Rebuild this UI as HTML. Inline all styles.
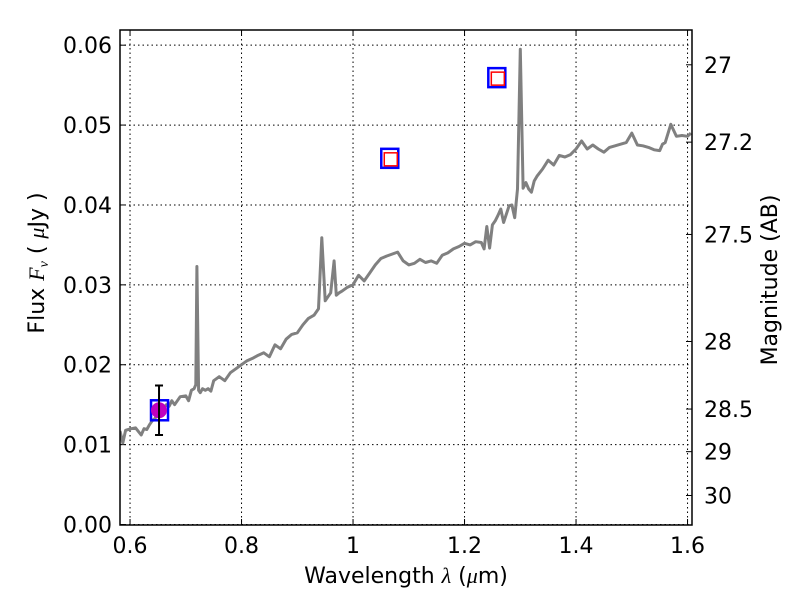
<!DOCTYPE html>
<html><head><meta charset="utf-8"><style>
body{margin:0;background:#fff;}
svg{display:block;font-family:"DejaVu Sans","Liberation Sans",sans-serif;}
</style></head><body>
<svg id="chart" width="800" height="600" viewBox="0 0 800 600" xmlns="http://www.w3.org/2000/svg"></svg>
<script>
const specWave = [0.582,0.587,0.592,0.597,0.602,0.61,0.62,0.625,0.63,0.635,0.64,0.645,0.65,0.655,0.66,0.665,0.67,0.675,0.68,0.69,0.7,0.705,0.71,0.715,0.718,0.72,0.723,0.726,0.73,0.735,0.74,0.745,0.75,0.76,0.77,0.78,0.79,0.8,0.81,0.82,0.83,0.84,0.85,0.86,0.87,0.88,0.89,0.9,0.91,0.92,0.93,0.938,0.944,0.95,0.955,0.96,0.966,0.97,0.975,0.98,0.99,1.0,1.01,1.02,1.03,1.04,1.05,1.06,1.08,1.09,1.1,1.11,1.12,1.13,1.14,1.15,1.16,1.17,1.18,1.19,1.2,1.21,1.22,1.23,1.235,1.24,1.245,1.25,1.255,1.26,1.265,1.27,1.28,1.285,1.29,1.295,1.3,1.305,1.31,1.315,1.32,1.325,1.33,1.34,1.35,1.36,1.37,1.38,1.39,1.4,1.41,1.42,1.43,1.44,1.45,1.46,1.47,1.48,1.49,1.5,1.51,1.52,1.53,1.54,1.55,1.555,1.56,1.57,1.58,1.59,1.6,1.606];
const specFlux = [0.0117,0.0102,0.0118,0.0119,0.0120,0.0121,0.0112,0.0120,0.0119,0.0125,0.0130,0.0133,0.0140,0.0142,0.0144,0.0150,0.0148,0.0155,0.0150,0.0160,0.0161,0.0155,0.0168,0.0170,0.0175,0.0323,0.0168,0.0165,0.0170,0.0168,0.0170,0.0167,0.0180,0.0185,0.0180,0.0190,0.0195,0.0200,0.0205,0.0208,0.0212,0.0215,0.0210,0.0225,0.0220,0.0232,0.0238,0.0240,0.0250,0.0258,0.0262,0.0270,0.0359,0.0280,0.0285,0.0290,0.0330,0.0287,0.0290,0.0292,0.0297,0.0300,0.0312,0.0305,0.0315,0.0325,0.0333,0.0336,0.0341,0.0330,0.0325,0.0327,0.0332,0.0328,0.0330,0.0327,0.0337,0.0340,0.0345,0.0348,0.0352,0.0350,0.0354,0.0353,0.0345,0.0373,0.0346,0.0375,0.0380,0.0387,0.0395,0.0378,0.0399,0.0400,0.0384,0.0420,0.0595,0.0421,0.0428,0.0420,0.0416,0.0430,0.0436,0.0445,0.0456,0.0450,0.0462,0.0460,0.0463,0.0470,0.0480,0.0470,0.0475,0.0470,0.0466,0.0472,0.0474,0.0476,0.0478,0.0490,0.0475,0.0474,0.0472,0.0469,0.0468,0.0476,0.0478,0.0501,0.0486,0.0487,0.0486,0.0490,0.0492,0.0494];
const photWave = [0.652];
const photFlux = [0.0143];
const photErr = [0.0031];
const modelWave = [1.065, 1.257];
const modelFlux = [0.0459, 0.0560];
const xTicks = [0.6,0.8,1.0,1.2,1.4,1.6];
const xTickLabels = ["0.6","0.8","1","1.2","1.4","1.6"];
const yTicks = [0,0.01,0.02,0.03,0.04,0.05,0.06];
const yTickLabels = ["0.00","0.01","0.02","0.03","0.04","0.05","0.06"];
const magTicks = [27,27.2,27.5,28,28.5,29,30];
const magTickLabels = ["27","27.2","27.5","28","28.5","29","30"];

const L=120,R=692,T=30,B=525;
const x0=0.582,x1=1.608,y0=-0.00006,y1=0.0619;
const sx=v=>L+(v-x0)/(x1-x0)*(R-L);
const sy=v=>B-(v-y0)/(y1-y0)*(B-T);
const magToFlux=m=>Math.pow(10,(23.9-m)/2.5);
const svg=document.getElementById('chart');
const NS='http://www.w3.org/2000/svg';
function mk(tag,attrs,parent){const e=document.createElementNS(NS,tag);for(const k in attrs)e.setAttribute(k,attrs[k]);(parent||svg).appendChild(e);return e;}
const FS=22;

xTicks.forEach((v,i)=>{
  const g=mk('line',{x1:sx(v),x2:sx(v),y1:T,y2:B,stroke:'#000','stroke-width':1,'stroke-dasharray':'1.5,3'});
  
  
  mk('line',{x1:sx(v),x2:sx(v),y1:B,y2:B-6,stroke:'#000'});
  mk('line',{x1:sx(v),x2:sx(v),y1:T,y2:T+6,stroke:'#000'});
  const t=mk('text',{x:sx(v),y:B+28,'text-anchor':'middle','font-size':FS});
  t.textContent=xTickLabels[i];
  
  
});
yTicks.forEach((v,i)=>{
  const g=mk('line',{x1:L,x2:R,y1:sy(v),y2:sy(v),stroke:'#000','stroke-width':1,'stroke-dasharray':'1.5,3'});
  
  
  mk('line',{x1:L,x2:L+6,y1:sy(v),y2:sy(v),stroke:'#000'});
  const t=mk('text',{x:L-8,y:sy(v)+8,'text-anchor':'end','font-size':FS});
  t.textContent=yTickLabels[i];
  
  
});
magTicks.forEach((m,i)=>{
  const y=sy(magToFlux(m));
  mk('line',{x1:R,x2:R-6,y1:y,y2:y,stroke:'#000'});
  const t=mk('text',{x:R+12,y:y+8,'text-anchor':'start','font-size':FS});
  t.textContent=magTickLabels[i];
  
  
});

let d='';
specWave.forEach((w,i)=>{d+=(i?'L':'M')+sx(w).toFixed(1)+','+sy(specFlux[i]).toFixed(1);});
const clip=mk('clipPath',{id:'pc'});mk('rect',{x:L,y:T,width:R-L,height:B-T},clip);
const sp=mk('path',{d:d,fill:'none',stroke:'#808080','stroke-width':3,'stroke-linejoin':'round','clip-path':'url(#pc)'});



modelWave.forEach((w,i)=>{
  const cx=sx(w),cy=sy(modelFlux[i]);
  const b=mk('rect',{x:cx-8,y:cy-9,width:17,height:19,fill:'none',stroke:'#0000ff','stroke-width':2.5});
  
  
  const r=mk('rect',{x:cx-5,y:cy-5,width:13,height:13,fill:'none',stroke:'#ff0000','stroke-width':1.5});
  
  
});

photWave.forEach((w,i)=>{
  const cx=sx(w),cy=sy(photFlux[i]);
  const yt=sy(photFlux[i]+photErr[i]),yb=sy(photFlux[i]-photErr[i]);
  const bx=mk('rect',{x:cx-8,y:cy-10,width:17,height:20,fill:'none',stroke:'#0000ff','stroke-width':2.5});
  
  
  const c=mk('circle',{cx:cx,cy:cy,r:8,fill:'#bf00bf'});
  
  
  const e=mk('path',{d:`M${cx},${yt}L${cx},${yb}M${cx-4},${yt}L${cx+4},${yt}M${cx-4},${yb}L${cx+4},${yb}`,stroke:'#000','stroke-width':2,fill:'none'});
  
  
});

const fr=mk('rect',{x:L,y:T,width:R-L,height:B-T,fill:'none',stroke:'#000','stroke-width':1.5});



const xl=mk('text',{x:406,y:583,'text-anchor':'middle','font-size':FS});
xl.innerHTML='Wavelength  <tspan font-style="italic" font-family="Liberation Serif, serif">λ</tspan> (<tspan font-style="italic" font-family="Liberation Serif, serif">μ</tspan>m)';
xl.setAttribute('xml:space','preserve');


const yl=mk('text',{x:0,y:0,'text-anchor':'middle','font-size':FS,transform:'translate(44,263) rotate(-90)'});
yl.setAttribute('xml:space','preserve');
yl.innerHTML='Flux  <tspan font-style="italic" font-family="Liberation Serif, serif">F</tspan><tspan font-size="14" font-style="italic" font-family="Liberation Serif, serif" dy="4">ν</tspan><tspan dy="-4">  (  </tspan><tspan font-style="italic" font-family="Liberation Serif, serif">μ</tspan>Jy )';


const ml=mk('text',{x:0,y:0,'text-anchor':'middle','font-size':FS,transform:'translate(777,280) rotate(-90)'});
ml.textContent='Magnitude (AB)';


</script>
</body></html>
